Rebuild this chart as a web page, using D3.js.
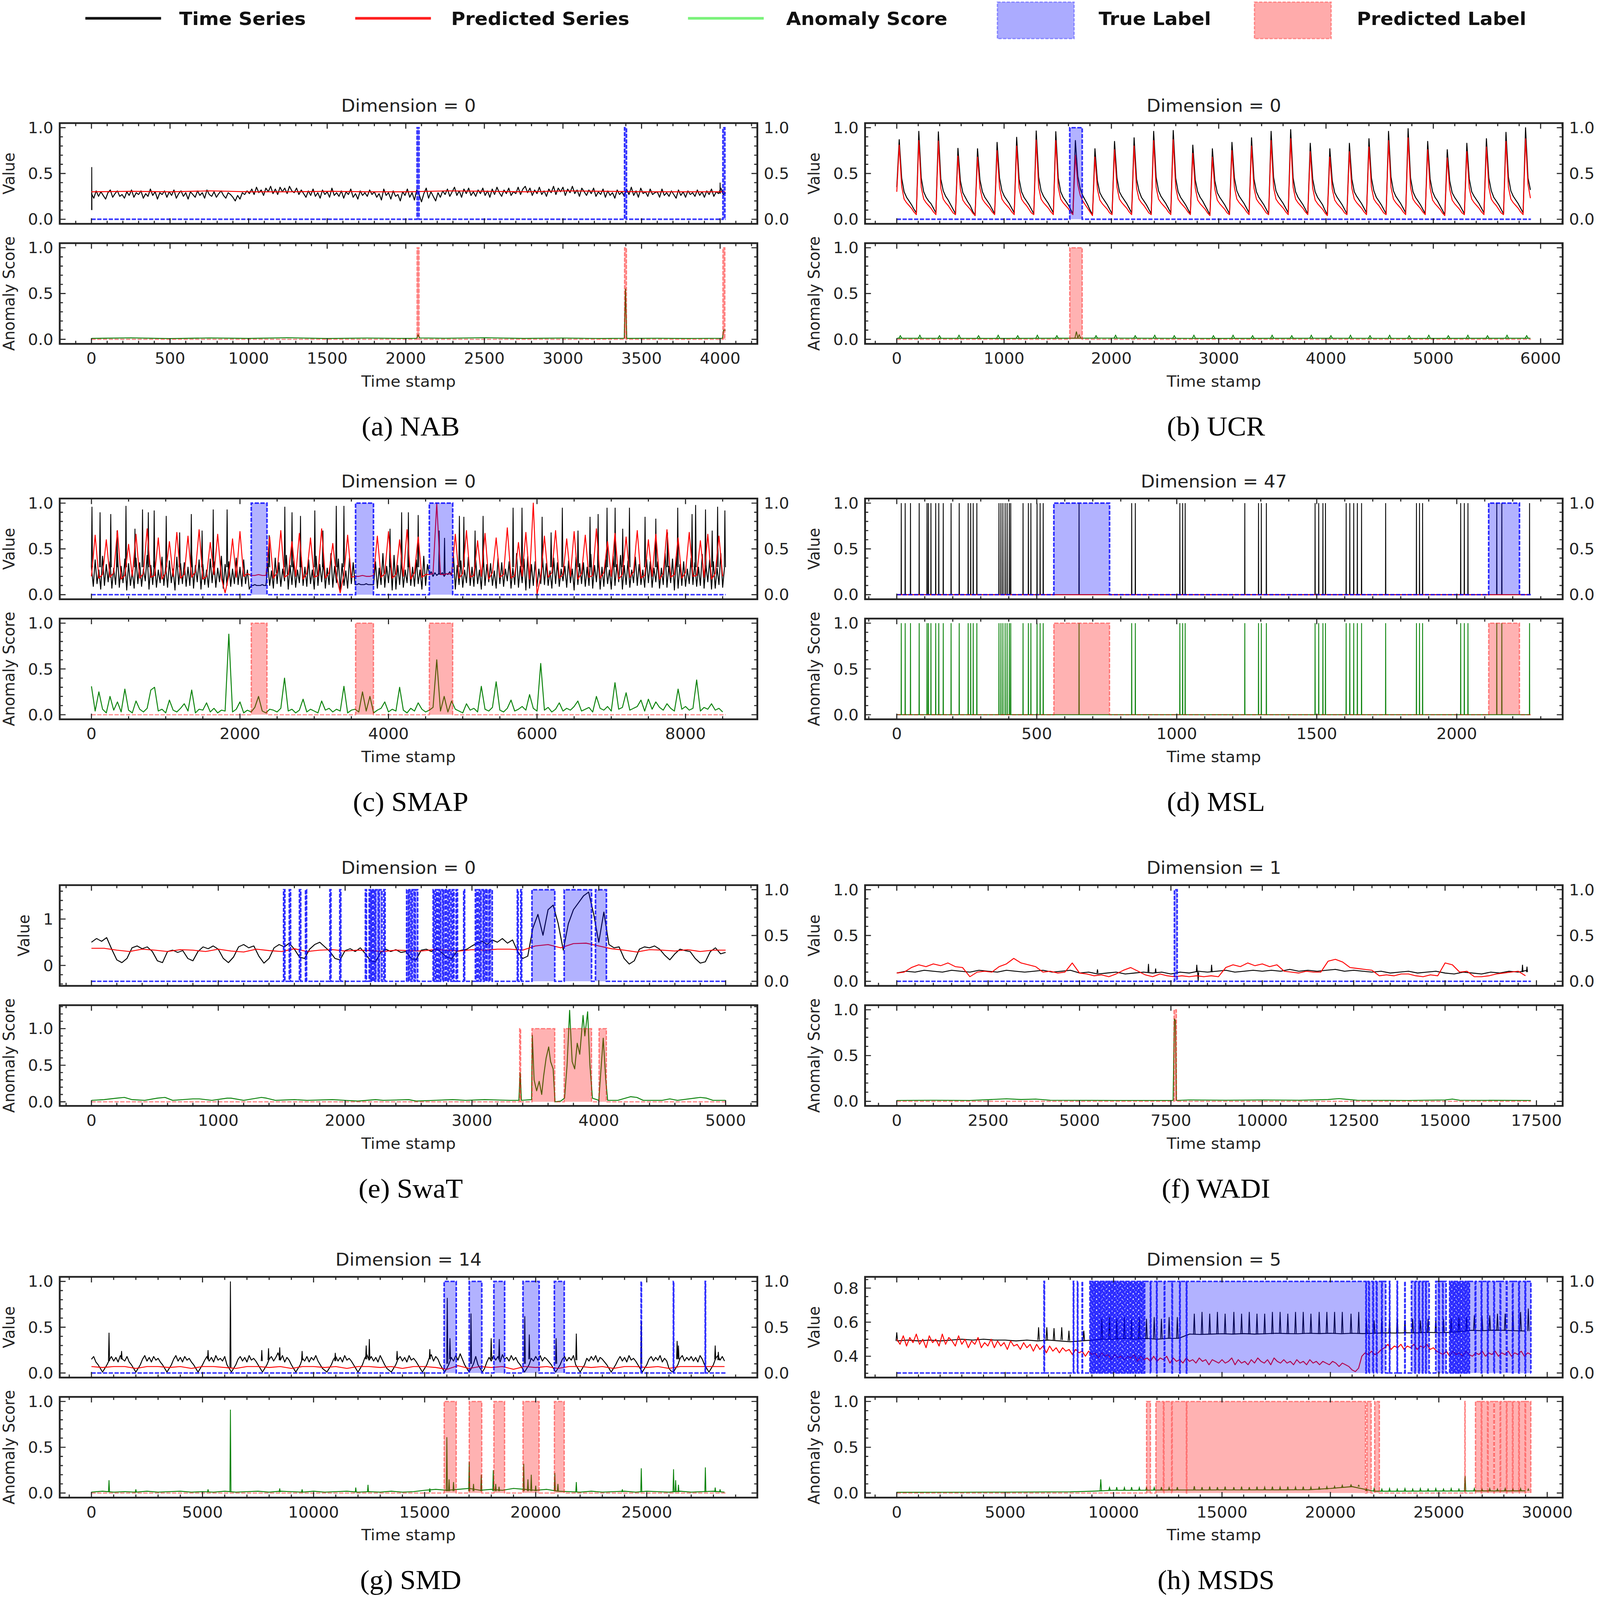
<!DOCTYPE html>
<html>
<head>
<meta charset="utf-8">
<script src="https://cdn.jsdelivr.net/npm/d3@7"></script>
<style>
  html, body { margin: 0; padding: 0; background: #fff; overflow: hidden; }
  svg { display: block; width: 100vw; height: 100vh; }
</style>
</head>
<body>
<svg id="chart"></svg>
<script>
// ---------- (a) NAB ----------
const nabLen = 4035;
const nabXTicks = [0, 500, 1000, 1500, 2000, 2500, 3000, 3500, 4000];
const nabTsStep = 15;
const nabTs = [
  0.28,0.23,0.31,0.25,0.30,0.26,0.22,0.29,0.32,0.24,0.28,0.31,0.25,0.27,0.23,
  0.30,0.26,0.32,0.24,0.29,0.27,0.31,0.23,0.28,0.25,0.33,0.26,0.30,0.22,0.29,
  0.27,0.31,0.24,0.30,0.26,0.32,0.23,0.28,0.31,0.25,0.29,0.22,0.30,0.27,0.24,
  0.31,0.26,0.29,0.23,0.32,0.27,0.25,0.30,0.24,0.28,0.31,0.26,0.23,0.29,0.27,
  0.24,0.20,0.26,0.22,0.29,0.27,0.31,0.28,0.33,0.27,0.35,0.29,0.32,0.26,0.34,
  0.30,0.36,0.28,0.33,0.27,0.35,0.30,0.34,0.28,0.36,0.31,0.29,0.34,0.27,0.32,
  0.28,0.24,0.31,0.26,0.33,0.25,0.29,0.23,0.32,0.27,0.30,0.24,0.34,0.26,0.29,
  0.25,0.31,0.23,0.30,0.27,0.33,0.24,0.28,0.22,0.31,0.26,0.29,0.25,0.32,0.27,
  0.30,0.24,0.28,0.21,0.33,0.26,0.29,0.22,0.31,0.25,0.27,0.20,0.30,0.26,0.33,
  0.24,0.29,0.21,0.32,0.27,0.19,0.28,0.34,0.23,0.30,0.25,0.20,0.29,0.24,0.31,
  0.27,0.33,0.25,0.30,0.35,0.26,0.31,0.24,0.33,0.28,0.34,0.26,0.30,0.25,0.32,
  0.28,0.34,0.26,0.31,0.24,0.33,0.27,0.35,0.29,0.25,0.32,0.28,0.34,0.26,0.30,
  0.28,0.35,0.27,0.33,0.36,0.29,0.34,0.26,0.32,0.28,0.35,0.27,0.31,0.25,0.33,
  0.29,0.36,0.27,0.34,0.30,0.35,0.26,0.33,0.29,0.36,0.28,0.32,0.25,0.34,0.30,
  0.26,0.32,0.28,0.34,0.25,0.30,0.27,0.33,0.24,0.31,0.26,0.29,0.23,0.32,0.27,
  0.30,0.25,0.33,0.27,0.35,0.26,0.31,0.24,0.34,0.28,0.30,0.25,0.33,0.27,0.29,
  0.30,0.24,0.33,0.26,0.29,0.25,0.31,0.27,0.23,0.32,0.26,0.30,0.24,0.31,0.27,
  0.29,0.25,0.32,0.26,0.30,0.24,0.31,0.27,0.33,0.25,0.30,0.28,0.34,0.27,0.29
];
const nabTsSpikes = [[2, 0.10, 0.57], [4000, 0.28, 0.40]];
const nabPredStep = 252;
const nabPred = [0.30,0.305,0.30,0.31,0.30,0.30,0.305,0.30,0.30,0.31,0.305,0.30,0.31,0.305,0.30,0.30,0.30];
const nabScore = [[0,0.01],[250,0.016],[500,0.008],[750,0.015],[1000,0.01],[1250,0.017],[1500,0.009],[1750,0.014],[2000,0.01],[2070,0.012],[2078,0.05],[2088,0.015],[2250,0.012],[2500,0.017],[2750,0.01],[3000,0.014],[3250,0.009],[3390,0.012],[3398,0.55],[3406,0.01],[3600,0.012],[3800,0.009],[4015,0.012],[4022,0.10],[4035,0.10]];
const nabTrue = [[2072,2084],[3392,3404],[4018,4030]];
const nabPredLabel = [[2072,2084],[3392,3404],[4018,4030]];

// ---------- (b) UCR ----------
const ucrLen = 5910;
const ucrXTicks = [0, 1000, 2000, 3000, 4000, 5000, 6000];
const ucrStep = 22.8;
const ucrTs = [
  0.35, 0.87, 0.45, 0.30, 0.24, 0.20, 0.16, 0.11, 0.07,
  0.96, 0.45, 0.30, 0.24, 0.20, 0.17, 0.12, 0.07,
  0.955, 0.44, 0.31, 0.25, 0.21, 0.16, 0.11, 0.06,
  0.775, 0.42, 0.29, 0.24, 0.19, 0.15, 0.09, 0.04,
  0.77, 0.43, 0.30, 0.24, 0.20, 0.16, 0.11, 0.06,
  0.84, 0.45, 0.31, 0.25, 0.21, 0.17, 0.12, 0.07,
  0.895, 0.44, 0.30, 0.24, 0.20, 0.16, 0.11, 0.06,
  0.965, 0.46, 0.31, 0.25, 0.21, 0.17, 0.12, 0.07,
  0.957, 0.45, 0.30, 0.24, 0.20, 0.16, 0.11, 0.06,
  0.86, 0.47, 0.33, 0.26, 0.21, 0.16, 0.10, 0.05,
  0.77, 0.42, 0.29, 0.24, 0.20, 0.16, 0.11, 0.06,
  0.85, 0.45, 0.30, 0.25, 0.21, 0.17, 0.12, 0.07,
  0.89, 0.44, 0.31, 0.24, 0.20, 0.16, 0.11, 0.06,
  0.96, 0.46, 0.31, 0.25, 0.21, 0.17, 0.12, 0.07,
  0.97, 0.45, 0.30, 0.24, 0.20, 0.16, 0.11, 0.06,
  0.81, 0.43, 0.30, 0.24, 0.20, 0.15, 0.10, 0.05,
  0.77, 0.42, 0.29, 0.24, 0.20, 0.16, 0.11, 0.06,
  0.84, 0.45, 0.31, 0.25, 0.21, 0.17, 0.12, 0.07,
  0.89, 0.44, 0.30, 0.24, 0.20, 0.16, 0.11, 0.06,
  0.96, 0.46, 0.31, 0.25, 0.21, 0.17, 0.12, 0.07,
  0.98, 0.45, 0.30, 0.24, 0.20, 0.16, 0.11, 0.06,
  0.83, 0.44, 0.30, 0.24, 0.20, 0.16, 0.10, 0.05,
  0.77, 0.42, 0.29, 0.24, 0.20, 0.16, 0.11, 0.06,
  0.83, 0.44, 0.30, 0.25, 0.21, 0.17, 0.12, 0.07,
  0.88, 0.45, 0.31, 0.24, 0.20, 0.16, 0.11, 0.06,
  0.96, 0.46, 0.31, 0.25, 0.21, 0.17, 0.12, 0.07,
  0.99, 0.45, 0.30, 0.24, 0.20, 0.16, 0.11, 0.06,
  0.85, 0.44, 0.30, 0.24, 0.20, 0.15, 0.10, 0.05,
  0.76, 0.42, 0.29, 0.24, 0.20, 0.16, 0.11, 0.06,
  0.83, 0.44, 0.30, 0.25, 0.21, 0.17, 0.12, 0.07,
  0.88, 0.45, 0.31, 0.24, 0.20, 0.16, 0.11, 0.06,
  0.95, 0.46, 0.31, 0.25, 0.21, 0.17, 0.12, 0.07,
  1.00, 0.45, 0.32
];
const ucrPred = [
  0.30, 0.81, 0.36, 0.22, 0.18, 0.15, 0.12, 0.08, 0.05,
  0.86, 0.35, 0.22, 0.18, 0.15, 0.12, 0.08, 0.05,
  0.855, 0.34, 0.22, 0.18, 0.15, 0.11, 0.07, 0.05,
  0.69, 0.33, 0.21, 0.17, 0.14, 0.11, 0.07, 0.04,
  0.68, 0.34, 0.22, 0.18, 0.15, 0.12, 0.08, 0.05,
  0.75, 0.35, 0.22, 0.18, 0.15, 0.12, 0.08, 0.05,
  0.80, 0.34, 0.22, 0.18, 0.15, 0.11, 0.07, 0.05,
  0.865, 0.35, 0.22, 0.18, 0.15, 0.12, 0.08, 0.05,
  0.86, 0.35, 0.22, 0.18, 0.15, 0.12, 0.08, 0.05,
  0.70, 0.38, 0.26, 0.20, 0.16, 0.12, 0.08, 0.04,
  0.68, 0.33, 0.21, 0.17, 0.14, 0.11, 0.07, 0.05,
  0.76, 0.35, 0.22, 0.18, 0.15, 0.12, 0.08, 0.05,
  0.80, 0.34, 0.22, 0.18, 0.15, 0.11, 0.07, 0.05,
  0.86, 0.35, 0.22, 0.18, 0.15, 0.12, 0.08, 0.05,
  0.87, 0.35, 0.22, 0.18, 0.15, 0.12, 0.08, 0.05,
  0.72, 0.34, 0.21, 0.17, 0.14, 0.11, 0.07, 0.04,
  0.68, 0.33, 0.21, 0.17, 0.14, 0.11, 0.07, 0.05,
  0.75, 0.35, 0.22, 0.18, 0.15, 0.12, 0.08, 0.05,
  0.80, 0.34, 0.22, 0.18, 0.15, 0.11, 0.07, 0.05,
  0.86, 0.35, 0.22, 0.18, 0.15, 0.12, 0.08, 0.05,
  0.88, 0.35, 0.22, 0.18, 0.15, 0.12, 0.08, 0.05,
  0.74, 0.34, 0.21, 0.17, 0.14, 0.11, 0.07, 0.04,
  0.68, 0.33, 0.21, 0.17, 0.14, 0.11, 0.07, 0.05,
  0.74, 0.34, 0.22, 0.18, 0.15, 0.12, 0.08, 0.05,
  0.79, 0.35, 0.22, 0.18, 0.15, 0.11, 0.07, 0.05,
  0.86, 0.35, 0.22, 0.18, 0.15, 0.12, 0.08, 0.05,
  0.89, 0.35, 0.22, 0.18, 0.15, 0.12, 0.08, 0.05,
  0.76, 0.34, 0.21, 0.17, 0.14, 0.11, 0.07, 0.04,
  0.67, 0.33, 0.21, 0.17, 0.14, 0.11, 0.07, 0.05,
  0.74, 0.34, 0.22, 0.18, 0.15, 0.12, 0.08, 0.05,
  0.79, 0.35, 0.22, 0.18, 0.15, 0.11, 0.07, 0.05,
  0.85, 0.35, 0.22, 0.18, 0.15, 0.12, 0.08, 0.05,
  0.88, 0.38, 0.23
];
const ucrScore = [[0,0.012],[1000,0.01],[2000,0.013],[3000,0.01],[4000,0.012],[5000,0.01],[5905,0.012]];
const ucrScoreSpikes = [[33,0.012,0.04],[215,0.012,0.045],[398,0.012,0.04],[580,0.012,0.045],[762,0.012,0.04],[945,0.012,0.045],[1127,0.012,0.04],[1310,0.012,0.045],[1492,0.012,0.04],[1674,0.012,0.085],[1700,0.012,0.05],[1857,0.012,0.04],[2039,0.012,0.045],[2222,0.012,0.04],[2404,0.012,0.045],[2586,0.012,0.04],[2769,0.012,0.045],[2951,0.012,0.04],[3134,0.012,0.045],[3316,0.012,0.04],[3498,0.012,0.045],[3681,0.012,0.04],[3863,0.012,0.045],[4046,0.012,0.04],[4228,0.012,0.045],[4410,0.012,0.04],[4593,0.012,0.045],[4775,0.012,0.04],[4958,0.012,0.045],[5140,0.012,0.04],[5322,0.012,0.045],[5505,0.012,0.04],[5687,0.012,0.045],[5870,0.012,0.04]];
const ucrTrue = [[1612,1728]];
const ucrPredLabel = [[1612,1728]];

// ---------- (c) SMAP ----------
const smapLen = 8540;
const smapXTicks = [0, 2000, 4000, 6000, 8000];
const smapTsStep = 25;
const smapTs = [
  0.30,0.09,0.38,0.12,0.27,0.06,0.42,0.10,0.33,0.14,
  0.36,0.07,0.29,0.11,0.45,0.08,0.31,0.13,0.39,0.05,
  0.34,0.10,0.26,0.07,0.40,0.12,0.35,0.09,0.28,0.15,
  0.43,0.06,0.32,0.11,0.37,0.08,0.27,0.13,0.41,0.10,
  0.31,0.08,0.37,0.13,0.28,0.05,0.41,0.11,0.34,0.12,
  0.35,0.09,0.30,0.10,0.44,0.07,0.32,0.14,0.38,0.06,
  0.33,0.11,0.27,0.08,0.39,0.13,0.36,0.08,0.29,0.14,
  0.42,0.07,0.33,0.10,0.36,0.09,0.28,0.12,0.40,0.11,
  0.30,0.09,0.38,0.12,0.27,0.06,
  0.10,0.10,0.11,0.10,0.10,0.10,0.11,0.10,0.10,
  0.34,0.10,0.26,0.07,0.40,0.12,0.35,0.09,0.28,0.15,
  0.43,0.06,0.32,0.11,0.37,0.08,0.27,0.13,0.41,0.10,
  0.30,0.09,0.38,0.12,0.27,0.06,0.42,0.10,0.33,0.14,
  0.36,0.07,0.29,0.11,0.45,0.08,0.31,0.13,0.39,0.05,
  0.34,0.10,0.26,0.07,0.40,0.12,0.35,
  0.11,0.11,0.12,0.11,0.11,0.11,0.12,0.11,0.11,0.11,0.11,
  0.36,0.07,0.29,0.11,0.45,0.08,0.31,0.13,0.39,0.05,
  0.43,0.06,0.32,0.11,0.37,0.08,0.27,0.13,0.41,0.10,
  0.30,0.09,0.38,0.12,0.27,0.06,0.42,0.10,0.33,
  0.22,0.25,0.20,0.24,0.21,0.23,0.22,0.24,0.20,0.23,0.22,0.25,0.21,
  0.43,0.06,0.32,0.11,0.37,0.08,0.27,0.13,0.41,0.10,
  0.30,0.09,0.38,0.12,0.27,0.06,0.42,0.10,0.33,0.14,
  0.34,0.10,0.26,0.07,0.40,0.12,0.35,0.09,0.28,0.15,
  0.36,0.07,0.29,0.11,0.45,0.08,0.31,0.13,0.39,0.05,
  0.42,0.07,0.33,0.10,0.36,0.09,0.28,0.12,0.40,0.11,
  0.34,0.10,0.26,0.07,0.40,0.12,0.35,0.09,0.28,0.15,
  0.31,0.08,0.37,0.13,0.28,0.05,0.41,0.11,0.34,0.12,
  0.35,0.09,0.30,0.10,0.44,0.07,0.32,0.14,0.38,0.06,
  0.30,0.09,0.38,0.12,0.27,0.06,0.42,0.10,0.33,0.14,
  0.43,0.06,0.32,0.11,0.37,0.08,0.27,0.13,0.41,0.10,
  0.33,0.11,0.27,0.08,0.39,0.13,0.36,0.08,0.29,0.14,
  0.36,0.07,0.29,0.11,0.45,0.08,0.31,0.13,0.39,0.05,
  0.42,0.07,0.33,0.10,0.36,0.09,0.28,0.12,0.40,0.11,
  0.35,0.09,0.30,0.10,0.44,0.07,0.32,0.14,0.38,0.06,
  0.36,0.07,0.29,0.11,0.45,0.08,0.30
];
const smapTsSpikes = [[7,0.3,0.96],[116,0.3,0.90],[260,0.3,0.88],[345,0.3,0.70],[465,0.3,0.97],[586,0.3,0.72],[688,0.3,0.93],[766,0.3,0.90],[845,0.3,0.92],[1007,0.3,0.86],[1188,0.3,0.68],[1345,0.3,0.88],[1490,0.3,0.70],[1640,0.3,0.93],[1827,0.3,0.93],[2393,0.3,0.65],[2604,0.3,0.96],[2701,0.3,0.90],[2815,0.3,0.86],[3008,0.3,0.92],[3117,0.3,0.70],[3297,0.3,0.97],[3400,0.3,0.97],[4021,0.3,0.72],[4177,0.3,0.90],[4268,0.3,0.90],[4400,0.3,0.87],[4683,0.22,0.70],[4755,0.22,0.62],[4955,0.3,0.86],[5015,0.3,0.85],[5166,0.3,0.70],[5274,0.3,0.86],[5678,0.3,0.95],[5798,0.3,0.95],[6069,0.3,0.85],[6190,0.3,0.68],[6341,0.3,0.95],[6552,0.3,0.70],[6714,0.3,0.85],[6823,0.3,0.88],[6943,0.3,0.95],[7052,0.3,0.95],[7154,0.3,0.72],[7245,0.3,0.95],[7455,0.3,0.85],[7600,0.3,0.83],[7757,0.3,0.68],[7895,0.3,0.95],[8088,0.3,0.88],[8136,0.3,0.98],[8269,0.3,0.93],[8359,0.3,0.70],[8432,0.3,0.96],[8530,0.3,0.92]];
const smapStep = 50;
const smapPred = [
  0.20,0.65,0.18,0.22,0.60,0.19,0.24,0.70,0.17,0.21,0.55,0.20,0.66,0.18,0.23,0.72,0.19,0.21,0.62,0.17,0.24,0.58,0.20,0.68,0.18,0.22,0.64,0.19,0.25,0.71,0.17,0.20,0.57,0.22,0.66,0.18,0.02,0.21,0.61,0.19,0.69,0.20,0.23,
  0.21,0.21,0.22,0.21,0.21,
  0.63,0.18,0.24,0.70,0.19,0.22,0.58,0.20,0.67,0.17,0.23,0.62,0.19,0.21,0.72,0.18,0.24,0.56,0.20,0.02,0.22,0.65,0.19,
  0.20,0.20,0.21,0.20,0.20,0.21,
  0.64,0.19,0.23,0.69,0.18,0.22,0.60,0.20,0.71,0.17,0.24,0.63,0.19,0.22,
  0.22,0.23,1.00,0.22,0.22,0.23,0.22,
  0.66,0.18,0.23,0.70,0.19,0.21,0.59,0.20,0.67,0.17,
  0.24,0.62,0.19,0.22,0.73,0.18,0.21,0.57,0.20,0.68,
  0.17,1.00,0.00,0.20,0.64,0.19,0.24,0.70,0.18,0.22,
  0.61,0.20,0.69,0.17,0.23,0.65,0.19,0.21,0.72,0.18,
  0.24,0.58,0.20,0.67,0.17,0.22,0.63,0.19,0.25,0.70,
  0.18,0.21,0.60,0.20,0.66,0.17,0.23,0.71,0.19,0.22,
  0.62,0.18,0.24,0.68,0.20,0.21,0.59,0.19,0.66,0.17,
  0.23,0.64,0.20
];
const smapScore = [
  0.31,0.04,0.25,0.06,0.02,0.20,0.05,0.14,0.03,0.28,
  0.05,0.02,0.15,0.06,0.03,0.07,0.27,0.30,0.04,0.06,
  0.02,0.16,0.05,0.03,0.07,0.12,0.04,0.27,0.02,0.06,
  0.05,0.13,0.03,0.07,0.02,0.05,0.04,0.88,0.03,0.06,
  0.14,0.02,0.05,0.03,0.08,0.20,0.04,0.02,0.06,0.05,
  0.03,0.07,0.40,0.04,0.06,0.02,0.05,0.17,0.03,0.06,
  0.04,0.02,0.15,0.05,0.07,0.03,0.06,0.04,0.31,0.02,
  0.05,0.06,0.03,0.25,0.04,0.20,0.02,0.05,0.07,0.14,
  0.03,0.06,0.04,0.30,0.05,0.02,0.07,0.04,0.13,0.06,
  0.03,0.05,0.08,0.60,0.04,0.20,0.03,0.15,0.06,0.04,
  0.02,0.12,0.05,0.07,0.03,0.31,0.06,0.04,0.08,0.36,
  0.05,0.03,0.07,0.16,0.04,0.06,0.09,0.05,0.22,0.07,
  0.04,0.56,0.05,0.08,0.03,0.06,0.13,0.04,0.07,0.05,
  0.09,0.15,0.04,0.06,0.08,0.03,0.20,0.07,0.05,0.09,
  0.04,0.35,0.06,0.08,0.24,0.05,0.07,0.09,0.16,0.04,
  0.17,0.06,0.14,0.08,0.05,0.12,0.07,0.04,0.28,0.06,
  0.09,0.05,0.07,0.38,0.04,0.08,0.06,0.12,0.05,0.07,
  0.03
];
const smapTrue = [[2152,2364],[3557,3798],[4550,4865]];
const smapPredLabel = [[2152,2364],[3557,3798],[4550,4865]];

// ---------- (d) MSL ----------
const mslLen = 2265;
const mslXTicks = [0, 500, 1000, 1500, 2000];
const mslFlat = [[0, 0], [2262, 0]];
// the same time stamps carry a 0 -> 1 spike in the series and in the anomaly score
const mslSpikeT = [16,30,49,80,108,113,122,139,150,166,194,223,255,264,273,286,365,372,379,387,394,402,407,451,470,479,501,512,523,651,839,852,1011,1021,1030,1243,1292,1302,1320,1494,1507,1522,1531,1605,1618,1632,1645,1660,1746,1856,1867,1878,2014,2027,2040,2143,2161,2260];
const mslTrue = [[561,760],[2114,2224]];
const mslPredLabel = [[561,760],[2114,2224]];

// ---------- (e) SwaT ----------
const swatLen = 5000;
const swatXTicks = [0, 1000, 2000, 3000, 4000, 5000];
const swatTsStep = 40;
const swatTs = [
  0.50,0.58,0.52,0.60,0.35,0.12,0.06,0.15,0.38,0.42,
  0.36,0.40,0.30,0.10,0.06,0.30,0.33,0.28,0.32,0.15,
  0.10,0.30,0.40,0.36,0.42,0.35,0.15,0.06,0.18,0.40,
  0.45,0.38,0.42,0.20,0.05,0.15,0.38,0.45,0.40,0.48,
  0.35,0.18,0.15,0.35,0.45,0.50,0.40,0.30,0.15,0.12,
  0.32,0.36,0.30,0.38,0.25,0.10,0.08,0.28,0.35,0.30,
  0.34,0.28,0.30,0.15,0.12,0.33,0.35,0.30,0.36,0.28,
  0.18,0.14,0.30,0.33,0.35,0.42,0.48,0.52,0.45,0.55,
  0.50,0.58,0.48,0.55,0.30,0.15,0.20,0.80,1.10,0.65,
  1.20,1.30,0.90,0.33,0.90,1.20,1.35,1.50,1.58,1.10,
  0.50,1.15,0.45,0.38,0.40,0.15,0.03,0.10,0.35,0.40,
  0.38,0.42,0.35,0.22,0.12,0.25,0.35,0.32,0.30,0.15,
  0.05,0.08,0.30,0.38,0.25,0.28
];
const swatPredStep = 100;
const swatPred = [
  0.37,0.37,0.33,0.30,0.35,0.33,0.30,0.34,0.33,0.30,
  0.35,0.31,0.29,0.35,0.32,0.30,0.36,0.30,0.33,0.34,
  0.31,0.33,0.32,0.30,0.33,0.32,0.31,0.34,0.33,0.31,
  0.34,0.33,0.35,0.35,0.33,0.42,0.45,0.38,0.47,0.48,
  0.42,0.36,0.33,0.29,0.34,0.33,0.31,0.34,0.30,0.33,
  0.33
];
const swatScore = [[0,0.02],[100,0.03],[200,0.05],[260,0.06],[320,0.03],[420,0.02],[520,0.05],[580,0.06],[640,0.02],[800,0.04],[850,0.04],[950,0.02],[1070,0.05],[1100,0.05],[1200,0.02],[1340,0.06],[1380,0.05],[1450,0.02],[1600,0.03],[1700,0.02],[1900,0.03],[2000,0.02],[2100,0.01],[2240,0.03],[2300,0.02],[2500,0.03],[2560,0.01],[2700,0.02],[2850,0.03],[2950,0.02],[3100,0.03],[3300,0.02],[3370,0.02],[3380,0.40],[3390,0.02],[3470,0.03],[3476,0.91],[3490,0.30],[3510,0.15],[3530,0.28],[3550,0.10],[3565,0.35],[3585,0.60],[3605,0.75],[3620,0.55],[3640,0.45],[3655,0.0],[3700,0.01],[3730,0.05],[3750,0.50],[3770,1.25],[3790,0.55],[3810,0.45],[3830,0.80],[3850,0.65],[3876,1.18],[3890,0.90],[3912,1.23],[3930,0.50],[3950,0.05],[4000,0.02],[4035,0.87],[4055,0.30],[4070,0.02],[4150,0.02],[4250,0.07],[4300,0.06],[4350,0.02],[4500,0.02],[4560,0.04],[4620,0.02],[4800,0.06],[4850,0.05],[4900,0.02],[5000,0.02]];
const swatTrue = [[1515,1525],[1560,1570],[1640,1650],[1688,1696],[1880,1888],[1958,1966],[2160,2168],[2190,2200],[2205,2215],[2222,2235],[2240,2262],[2268,2290],[2305,2315],[2485,2500],[2505,2520],[2528,2545],[2552,2572],[2694,2702],[2712,2722],[2732,2745],[2752,2770],[2775,2790],[2798,2812],[2820,2835],[2845,2858],[2875,2886],[2935,2942],[3027,3040],[3048,3062],[3070,3090],[3096,3110],[3118,3135],[3142,3160],[3358,3364],[3385,3392],[3473,3653],[3727,3943],[3974,4060]];
const swatPredLabel = [[3376,3384],[3473,3653],[3727,3943],[4002,4060]];

// ---------- (f) WADI ----------
const wadiLen = 17350;
const wadiXTicks = [0, 2500, 5000, 7500, 10000, 12500, 15000, 17500];
const wadiTsStep = 250;
const wadiTs = [
  0.09,0.11,0.10,0.12,0.11,0.10,0.12,0.11,
  0.10,0.12,0.11,0.10,0.12,0.11,0.10,0.11,
  0.12,0.10,0.11,0.12,0.09,0.10,0.08,0.09,
  0.10,0.08,0.09,0.10,0.09,0.10,0.08,0.10,
  0.09,0.11,0.10,0.11,0.12,0.10,0.11,0.12,
  0.11,0.12,0.11,0.13,0.11,0.12,0.11,0.12,
  0.13,0.11,0.12,0.11,0.10,0.11,0.09,0.10,
  0.11,0.09,0.10,0.11,0.09,0.08,0.10,0.09,
  0.08,0.10,0.09,0.11,0.10,0.12
];
const wadiTsSpikes = [[5491,0.09,0.13],[6886,0.10,0.19],[7082,0.09,0.14],[8208,0.10,0.18],[8245,0.10,0.0],[8613,0.10,0.18],[17119,0.10,0.18],[17241,0.10,0.16]];
const wadiPredStep = 200;
const wadiPred = [
  0.09,0.10,0.15,0.18,0.16,0.19,0.17,0.20,0.16,0.15,
  0.05,0.10,0.11,0.10,0.16,0.19,0.25,0.20,0.18,0.16,
  0.10,0.11,0.09,0.10,0.20,0.09,0.08,0.06,0.07,0.05,
  0.08,0.12,0.15,0.11,0.07,0.05,0.08,0.06,0.05,0.06,
  0.05,0.06,0.05,0.06,0.05,0.15,0.18,0.16,0.20,0.17,
  0.19,0.16,0.18,0.11,0.10,0.09,0.11,0.10,0.10,0.22,
  0.24,0.21,0.15,0.14,0.13,0.12,0.06,0.07,0.06,0.08,
  0.08,0.06,0.05,0.07,0.06,0.20,0.18,0.10,0.11,0.05,
  0.05,0.06,0.08,0.09,0.10,0.11,0.06
];
const wadiScore = [[0,0.01],[1000,0.012],[2000,0.01],[2600,0.02],[3000,0.028],[3400,0.02],[3800,0.025],[4200,0.012],[6000,0.01],[7560,0.01],[7595,0.90],[7625,0.88],[7650,0.01],[8000,0.015],[9000,0.012],[10000,0.015],[11000,0.012],[11800,0.02],[12100,0.03],[12300,0.022],[12600,0.012],[14000,0.01],[15000,0.015],[15200,0.025],[15400,0.012],[17350,0.01]];
const wadiTrue = [[7596,7670]];
const wadiPredLabel = [[7585,7650]];

// ---------- (g) SMD ----------
const smdLen = 28550;
const smdXTicks = [0, 5000, 10000, 15000, 20000, 25000];
const smdTsStep = 100;
const smdTs = [
  0.15,0.18,0.12,0.09,0.05,0.01,0.05,0.09,0.14,0.18,
  0.13,0.17,0.12,0.19,0.15,0.13,0.18,0.12,0.09,0.05,
  0.01,0.05,0.09,0.15,0.19,0.13,0.17,0.12,0.18,0.14,
  0.16,0.12,0.09,0.05,0.01,0.05,0.09,0.15,0.19,0.13,
  0.17,0.12,0.18,0.14,0.16,0.12,0.09,0.05,0.01,0.05,
  0.09,0.14,0.18,0.13,0.17,0.12,0.19,0.14,0.16,0.13,
  0.18,0.09,0.05,0.01,0.05,0.09,0.15,0.18,0.13,0.17,
  0.12,0.19,0.14,0.16,0.13,0.09,0.05,0.01,0.05,0.09,
  0.15,0.18,0.13,0.17,0.22,0.14,0.19,0.12,0.17,0.14,
  0.09,0.05,0.01,0.05,0.09,0.16,0.13,0.18,0.12,0.17,
  0.14,0.19,0.13,0.09,0.05,0.03,0.01,0.05,0.09,0.15,
  0.18,0.13,0.17,0.12,0.19,0.14,0.16,0.13,0.09,0.05,
  0.01,0.05,0.09,0.16,0.20,0.14,0.18,0.13,0.17,0.12,
  0.19,0.14,0.09,0.05,0.03,0.01,0.05,0.09,0.15,0.18,
  0.13,0.17,0.12,0.19,0.14,0.16,0.13,0.09,0.05,0.01,
  0.05,0.09,0.16,0.20,0.13,0.18,0.15,0.09,0.05,0.01,
  0.05,0.10,0.17,0.13,0.19,0.14,0.21,0.15,0.09,0.05,
  0.01,0.05,0.10,0.18,0.09,0.05,0.01,0.05,0.12,0.17,
  0.13,0.19,0.14,0.18,0.12,0.20,0.15,0.17,0.13,0.19,
  0.14,0.17,0.12,0.09,0.05,0.01,0.05,0.09,0.16,0.13,
  0.18,0.14,0.19,0.13,0.17,0.15,0.12,0.09,0.05,0.01,
  0.05,0.09,0.15,0.18,0.13,0.17,0.14,0.19,0.09,0.05,
  0.01,0.05,0.09,0.16,0.13,0.18,0.14,0.19,0.12,0.17,
  0.15,0.12,0.09,0.05,0.01,0.05,0.09,0.14,0.18,0.13,
  0.17,0.12,0.19,0.14,0.16,0.13,0.09,0.05,0.01,0.05,
  0.09,0.15,0.18,0.13,0.17,0.14,0.19,0.12,0.16,0.13,
  0.05,0.02,0.01,0.05,0.09,0.16,0.19,0.13,0.17,0.14,
  0.18,0.13,0.17,0.12,0.19,0.15,0.09,0.05,0.01,0.05,
  0.09,0.16,0.19,0.14,0.18,0.13
];
const smdTsSpikes = [[791,0.13,0.44],[1356,0.15,0.24],[5249,0.15,0.25],[6257,0.05,1.0],[7669,0.13,0.25],[7972,0.14,0.27],[8476,0.14,0.28],[9484,0.14,0.24],[10977,0.13,0.22],[12369,0.15,0.30],[12510,0.15,0.37],[13760,0.14,0.24],[15233,0.15,0.26],[16019,0.10,0.82],[16140,0.15,0.38],[17088,0.10,0.65],[17996,0.15,0.38],[18359,0.15,0.37],[19509,0.10,0.62],[19711,0.15,0.42],[20921,0.10,0.38],[21828,0.14,0.43],[24753,0.10,0.56],[26367,0.15,0.35],[26427,0.15,0.30],[28081,0.15,0.30],[28222,0.14,0.23]];
const smdPredStep = 500;
const smdPred = [
  0.07,0.06,0.07,0.07,0.05,0.07,0.07,0.06,0.07,0.05,
  0.07,0.07,0.06,0.05,0.07,0.07,0.06,0.07,0.05,0.07,
  0.07,0.06,0.07,0.05,0.07,0.07,0.06,0.07,0.05,0.07,
  0.07,0.06,0.04,0.08,0.05,0.07,0.06,0.07,0.04,0.07,
  0.06,0.07,0.05,0.07,0.07,0.06,0.07,0.05,0.07,0.07,
  0.06,0.07,0.05,0.07,0.07,0.07,0.07,0.07
];
const smdScoreStep = 500;
const smdScore = [
  0.01,0.02,0.01,0.015,0.01,0.02,0.01,0.015,0.02,0.01,
  0.015,0.01,0.02,0.01,0.015,0.02,0.01,0.02,0.015,0.01,
  0.02,0.01,0.015,0.02,0.01,0.015,0.01,0.02,0.01,0.015,
  0.03,0.04,0.03,0.04,0.05,0.03,0.04,0.03,0.05,0.04,
  0.03,0.04,0.02,0.015,0.01,0.02,0.01,0.015,0.02,0.01,
  0.02,0.015,0.01,0.02,0.01,0.015,0.02,0.01
];
const smdScoreSpikes = [[791,0.01,0.14],[2000,0.01,0.04],[5249,0.01,0.04],[6257,0.01,0.91],[8476,0.01,0.05],[9484,0.01,0.04],[11900,0.01,0.06],[12450,0.01,0.09],[15233,0.01,0.05],[16000,0.02,0.61],[16100,0.02,0.15],[16300,0.02,0.12],[17007,0.02,0.34],[17200,0.02,0.10],[17550,0.02,0.20],[18090,0.02,0.25],[18200,0.02,0.10],[18350,0.02,0.07],[19460,0.02,0.32],[19650,0.02,0.15],[19800,0.02,0.20],[20000,0.02,0.08],[20860,0.02,0.22],[21000,0.02,0.10],[21828,0.01,0.12],[23900,0.01,0.04],[24753,0.01,0.27],[26205,0.01,0.26],[26300,0.01,0.14],[26427,0.01,0.09],[27638,0.01,0.28],[28081,0.01,0.06],[28300,0.01,0.04]];
const smdTrue = [[15878,16423],[17007,17573],[18117,18601],[19428,20154],[20840,21284],[24745,24760],[26198,26212],[27631,27645]];
const smdPredLabel = [[15878,16423],[17007,17573],[18117,18601],[19428,20154],[20840,21284]];

// ---------- (h) MSDS ----------
const msdsLen = 29250;
const msdsXTicks = [0, 5000, 10000, 15000, 20000, 25000, 30000];
const msdsTsStep = 500;
const msdsTs = [
  0.49,0.495,0.49,0.495,0.49,0.495,0.50,0.495,0.50,0.495,
  0.495,0.49,0.495,0.49,0.495,0.49,0.485,0.49,0.495,0.50,
  0.50,0.505,0.50,0.505,0.50,0.505,0.505,0.53,0.528,0.53,
  0.532,0.53,0.533,0.53,0.532,0.535,0.533,0.532,0.535,0.533,
  0.535,0.532,0.535,0.533,0.535,0.537,0.536,0.538,0.537,0.54,
  0.538,0.54,0.545,0.552,0.55,0.553,0.552,0.55,0.548
];
const msdsTsSpikes = [[0,0.49,0.54],[6541,0.495,0.57],[6920,0.495,0.57],[7252,0.495,0.565],[7608,0.495,0.57],[7940,0.49,0.55],[8627,0.49,0.55],[9456,0.50,0.62],[9812,0.50,0.63],[10144,0.50,0.62],[10499,0.50,0.63],[10831,0.50,0.62],[11187,0.50,0.63],[11518,0.50,0.62],[11874,0.505,0.63],[12206,0.505,0.62],[12561,0.505,0.63],[12940,0.505,0.63],[13722,0.53,0.65],[14078,0.53,0.66],[14433,0.53,0.65],[14789,0.53,0.66],[15144,0.53,0.65],[15547,0.53,0.66],[15903,0.53,0.65],[16258,0.53,0.66],[16614,0.53,0.65],[16969,0.53,0.65],[17325,0.53,0.66],[17680,0.535,0.66],[18036,0.535,0.65],[18391,0.535,0.66],[18747,0.535,0.66],[19102,0.535,0.65],[19482,0.535,0.66],[19837,0.535,0.66],[20193,0.535,0.66],[20548,0.535,0.66],[20951,0.535,0.65],[21306,0.535,0.66],[21662,0.535,0.62],[22017,0.535,0.61],[22373,0.535,0.62],[22728,0.537,0.61],[23084,0.537,0.62],[23439,0.537,0.61],[23795,0.537,0.62],[24150,0.538,0.61],[24506,0.538,0.62],[24861,0.538,0.61],[25217,0.54,0.62],[25572,0.54,0.62],[25928,0.545,0.63],[26283,0.55,0.63],[26639,0.55,0.64],[26994,0.552,0.64],[27350,0.552,0.64],[27705,0.552,0.65],[28061,0.55,0.65],[28416,0.55,0.66],[28772,0.55,0.66],[29127,0.548,0.68]];
const msdsPredStep = 150;
const msdsPred = [
  0.50,0.47,0.52,0.46,0.51,0.48,0.53,0.47,0.50,0.45,
  0.52,0.48,0.50,0.46,0.53,0.47,0.51,0.49,0.46,0.52,
  0.47,0.50,0.45,0.49,0.47,0.51,0.45,0.48,0.46,0.50,
  0.45,0.49,0.46,0.48,0.44,0.49,0.46,0.47,0.44,0.48,
  0.45,0.47,0.43,0.47,0.44,0.46,0.42,0.46,0.43,0.45,
  0.42,0.45,0.43,0.44,0.41,0.44,0.42,0.43,0.40,0.43,
  0.41,0.42,0.39,0.42,0.40,0.41,0.38,0.41,0.39,0.40,
  0.38,0.40,0.39,0.41,0.37,0.40,0.38,0.39,0.37,0.40,
  0.37,0.39,0.38,0.40,0.36,0.39,0.37,0.38,0.36,0.39,
  0.37,0.38,0.36,0.39,0.37,0.38,0.35,0.38,0.37,0.36,
  0.38,0.36,0.37,0.39,0.35,0.38,0.36,0.37,0.35,0.38,
  0.36,0.39,0.37,0.36,0.38,0.35,0.39,0.37,0.36,0.38,
  0.36,0.37,0.35,0.38,0.36,0.37,0.35,0.38,0.36,0.37,
  0.35,0.37,0.36,0.35,0.37,0.36,0.34,0.36,0.35,0.34,
  0.32,0.31,0.33,0.40,0.42,0.41,0.43,0.41,0.42,0.44,
  0.45,0.47,0.44,0.46,0.45,0.47,0.44,0.46,0.45,0.47,
  0.44,0.46,0.45,0.47,0.44,0.45,0.43,0.42,0.41,0.43,
  0.40,0.43,0.41,0.42,0.40,0.43,0.41,0.40,0.42,0.41,
  0.43,0.40,0.42,0.41,0.43,0.40,0.42,0.41,0.43,0.40,
  0.42,0.41,0.43,0.40,0.42,0.41
];
const msdsScoreStep = 1000;
const msdsScore = [
  0.008,0.008,0.009,0.009,0.01,0.01,0.011,0.012,0.013,0.02,
  0.03,0.03,0.032,0.033,0.033,0.034,0.034,0.035,0.035,0.036,
  0.05,0.07,0.02,0.02,0.021,0.022,0.022,0.023,0.023,0.024
];
const msdsScoreSpikes = [[9409,0.02,0.15],[9812,0.03,0.06],[10144,0.03,0.065],[10499,0.03,0.06],[10831,0.03,0.065],[11187,0.03,0.06],[11518,0.03,0.065],[11874,0.03,0.06],[12206,0.03,0.065],[12561,0.032,0.06],[12940,0.032,0.065],[13722,0.033,0.075],[14078,0.033,0.065],[14433,0.033,0.07],[14789,0.033,0.065],[15144,0.034,0.07],[15547,0.034,0.065],[15903,0.034,0.07],[16258,0.034,0.065],[16614,0.035,0.07],[16969,0.035,0.065],[17325,0.035,0.07],[17680,0.035,0.065],[18036,0.035,0.07],[18391,0.035,0.065],[18747,0.036,0.07],[19102,0.036,0.065],[19482,0.036,0.07],[19837,0.04,0.07],[20193,0.05,0.075],[20548,0.06,0.085],[20951,0.07,0.09],[21306,0.07,0.085],[21662,0.02,0.045],[22017,0.02,0.05],[22373,0.02,0.045],[22728,0.02,0.05],[23084,0.021,0.045],[23439,0.021,0.05],[23795,0.021,0.045],[24150,0.022,0.05],[24506,0.022,0.045],[24861,0.022,0.05],[25217,0.022,0.045],[25572,0.022,0.05],[25928,0.022,0.045],[26212,0.022,0.185],[26639,0.023,0.05],[26994,0.023,0.045],[27350,0.023,0.05],[27705,0.023,0.045],[28061,0.023,0.05],[28416,0.024,0.045],[28772,0.024,0.05],[29127,0.024,0.045]];
const msdsTrue = [[6790,6810],[8145,8160],[8335,8350],[8550,8565],[8911,8960],[9000,9040],[9080,9120],[9150,9200],[9240,9280],[9320,9370],[9400,9440],[9480,9530],[9570,9610],[9650,9700],[9740,9780],[9820,9870],[9900,9950],[9990,10030],[10070,10120],[10160,10200],[10240,10290],[10330,10370],[10410,10460],[10500,10540],[10580,10630],[10670,10710],[10750,10800],[10840,10880],[10920,10970],[11010,11050],[11090,11140],[11180,11220],[11260,11310],[11350,11400],[11430,11700],[11716,11985],[12000,12340],[12356,12695],[12711,13050],[13066,13360],[13375,21640],[21655,21770],[21790,21960],[21980,22125],[22145,22365],[22385,22550],[22725,22740],[23078,23092],[23432,23446],[23740,23900],[23915,24080],[24095,24250],[24265,24400],[24415,24553],[24860,25000],[25015,25180],[25195,25335],[25500,25540],[25580,25620],[25660,25700],[25740,25780],[25820,25860],[25900,25940],[25980,26020],[26060,26100],[26140,26180],[26220,26260],[26300,26340],[26370,26400],[26410,26680],[26700,26960],[26980,27250],[27270,27540],[27560,27830],[27850,28120],[28140,28400],[28420,28690],[28710,28980],[29000,29246]];
const msdsPredLabel = [[11520,11700],[11950,12300],[12320,12680],[12700,13360],[13375,21620],[21680,21880],[22040,22260],[26200,26215],[26690,26960],[26980,27250],[27270,27540],[27560,27830],[27850,28120],[28140,28400],[28420,28690],[28710,28980],[29000,29246]];

// ---------- legend ----------
const legendLines = [
  { label: 'Time Series', color: '#111', x: 80, tx: 168 },
  { label: 'Predicted Series', color: '#ff2020', x: 333, tx: 423 },
  { label: 'Anomaly Score', color: '#7af27a', x: 645, tx: 737 }
];
const legendBoxes = [
  { label: 'True Label', color: '#0000ff', x: 935, tx: 1030 },
  { label: 'Predicted Label', color: '#ff0000', x: 1176, tx: 1272 }
];

// ---------- helpers ----------
const fromStep = (step, vals) => vals.map((v, i) => [i * step, v]);

const VW = 1500, VH = VW * 5391 / 5142;
const colX = [56, 811], frameW = 654;
const rowTop = [121, 490, 870, 1255];
const plotH = 99, gapH = 19;
const sans = 'DejaVu Sans, Verdana, sans-serif';

const panels = [
  { caption: '(a) NAB', title: 'Dimension = 0', col: 0, row: 0, len: nabLen, xTicks: nabXTicks, xMinor: 100,
    ts: fromStep(nabTsStep, nabTs), tsSpikes: nabTsSpikes, pred: fromStep(nabPredStep, nabPred),
    score: nabScore, scoreSpikes: [], trueSeg: nabTrue, predSeg: nabPredLabel, spikeW: 1 },
  { caption: '(b) UCR', title: 'Dimension = 0', col: 1, row: 0, len: ucrLen, xTicks: ucrXTicks, xMinor: 200,
    ts: fromStep(ucrStep, ucrTs), tsSpikes: [], pred: fromStep(ucrStep, ucrPred),
    score: ucrScore, scoreSpikes: ucrScoreSpikes, trueSeg: ucrTrue, predSeg: ucrPredLabel, spikeW: 14 },
  { caption: '(c) SMAP', title: 'Dimension = 0', col: 0, row: 1, len: smapLen, xTicks: smapXTicks, xMinor: 500,
    ts: fromStep(smapTsStep, smapTs), tsSpikes: smapTsSpikes, pred: fromStep(smapStep, smapPred),
    score: fromStep(smapStep, smapScore), scoreSpikes: [], trueSeg: smapTrue, predSeg: smapPredLabel, spikeW: 8 },
  { caption: '(d) MSL', title: 'Dimension = 47', col: 1, row: 1, len: mslLen, xTicks: mslXTicks, xMinor: 100,
    ts: mslFlat, tsSpikes: mslSpikeT.map((t) => [t, 0, 1]), pred: mslFlat,
    score: mslFlat, scoreSpikes: mslSpikeT.map((t) => [t, 0, 1]),
    trueSeg: mslTrue, predSeg: mslPredLabel, spikeW: 0.6 },
  { caption: '(e) SwaT', title: 'Dimension = 0', col: 0, row: 2, len: swatLen, xTicks: swatXTicks, xMinor: 200,
    valueDomain: [-0.44, 1.73], valueTicks: [0, 1], valueMinor: 0.2, valueFmt: 'd', valueLabelX: 34,
    scoreDomain: [-0.056, 1.32],
    ts: fromStep(swatTsStep, swatTs), tsSpikes: [], pred: fromStep(swatPredStep, swatPred),
    score: swatScore, scoreSpikes: [], trueSeg: swatTrue, predSeg: swatPredLabel, spikeW: 5 },
  { caption: '(f) WADI', title: 'Dimension = 1', col: 1, row: 2, len: wadiLen, xTicks: wadiXTicks, xMinor: 500,
    ts: fromStep(wadiTsStep, wadiTs), tsSpikes: wadiTsSpikes, pred: fromStep(wadiPredStep, wadiPred),
    score: wadiScore, scoreSpikes: [], trueSeg: wadiTrue, predSeg: wadiPredLabel, spikeW: 15 },
  { caption: '(g) SMD', title: 'Dimension = 14', col: 0, row: 3, len: smdLen, xTicks: smdXTicks, xMinor: 1000,
    ts: fromStep(smdTsStep, smdTs), tsSpikes: smdTsSpikes, pred: fromStep(smdPredStep, smdPred),
    score: fromStep(smdScoreStep, smdScore), scoreSpikes: smdScoreSpikes, trueSeg: smdTrue, predSeg: smdPredLabel, spikeW: 25 },
  { caption: '(h) MSDS', title: 'Dimension = 5', col: 1, row: 3, len: msdsLen, xTicks: msdsXTicks, xMinor: 1000,
    valueDomain: [0.275, 0.866], valueTicks: [0.4, 0.6, 0.8], valueMinor: 0.05,
    ts: fromStep(msdsTsStep, msdsTs), tsSpikes: msdsTsSpikes, pred: fromStep(msdsPredStep, msdsPred),
    score: fromStep(msdsScoreStep, msdsScore), scoreSpikes: msdsScoreSpikes, trueSeg: msdsTrue, predSeg: msdsPredLabel, spikeW: 35 }
];

// the drawing is stretched over the whole viewport, whatever size the browser window really has
const svg = d3.select('#chart')
  .attr('viewBox', [0, 0, VW, VH])
  .attr('preserveAspectRatio', 'none');
svg.append('rect').attr('width', VW).attr('height', VH).attr('fill', '#fff');
const defs = svg.append('defs');
let clipId = 0;

function addClip(x, y, w, h) {
  const id = 'clip-' + clipId++;
  defs.append('clipPath').attr('id', id).append('rect').attr('x', x).attr('y', y).attr('width', w).attr('height', h);
  return id;
}

function drawLine(g, pts, x, y, color, width) {
  g.append('path')
    .attr('d', d3.line().x((d) => x(d[0])).y((d) => y(d[1]))(pts))
    .attr('fill', 'none')
    .attr('stroke', color)
    .attr('stroke-width', width)
    .attr('stroke-linejoin', 'round');
}

function drawSpikes(g, spikes, x, y, w, color, width) {
  if (!spikes.length) return;
  let d = '';
  spikes.forEach(([t, b, v]) => {
    d += `M${x(t - w)},${y(b)}L${x(t)},${y(v)}L${x(t + w)},${y(b)}`;
  });
  g.append('path').attr('d', d).attr('fill', 'none').attr('stroke', color).attr('stroke-width', width);
}

function drawLabels(g, segs, len, x, y, color, lineOpacity, lineWidth) {
  g.append('g')
    .selectAll('rect')
    .data(segs)
    .join('rect')
    .attr('x', (d) => x(d[0]))
    .attr('width', (d) => Math.max(0.3, x(d[1]) - x(d[0])))
    .attr('y', y(1))
    .attr('height', y(0) - y(1))
    .attr('fill', color)
    .attr('fill-opacity', 0.3);
  const pts = [[0, 0]];
  segs.forEach(([s, e]) => pts.push([s, 0], [s, 1], [e, 1], [e, 0]));
  pts.push([len, 0]);
  g.append('path')
    .attr('d', d3.line().x((d) => x(d[0])).y((d) => y(d[1]))(pts))
    .attr('fill', 'none')
    .attr('stroke', color)
    .attr('stroke-opacity', lineOpacity)
    .attr('stroke-width', lineWidth)
    .attr('stroke-dasharray', '4,1.4');
}

function minorRange(domain, step) {
  return d3.range(Math.ceil(domain[0] / step - 1e-6) * step, domain[1] + 1e-6, step);
}

// inward ticks on the four sides of one plot box
function drawTicks(g, box, x, xTicks, xMinor, yLeft, leftTicks, leftMinor, yRight, rightTicks, rightMinor) {
  let d = '';
  const maj = 5.5, min = 3;
  minorRange(x.domain(), xMinor).forEach((v) => {
    const px = x(v);
    if (px < box.x0 || px > box.x1) return;
    d += `M${px},${box.y1}v${-min}M${px},${box.y0}v${min}`;
  });
  xTicks.forEach((v) => {
    const px = x(v);
    d += `M${px},${box.y1}v${-maj}M${px},${box.y0}v${maj}`;
  });
  minorRange(yLeft.domain(), leftMinor).forEach((v) => { d += `M${box.x0},${yLeft(v)}h${min}`; });
  leftTicks.forEach((v) => { d += `M${box.x0},${yLeft(v)}h${maj}`; });
  minorRange(yRight.domain(), rightMinor).forEach((v) => { d += `M${box.x1},${yRight(v)}h${-min}`; });
  rightTicks.forEach((v) => { d += `M${box.x1},${yRight(v)}h${-maj}`; });
  g.append('path').attr('d', d).attr('stroke', '#222').attr('stroke-width', 1).attr('fill', 'none');
  g.append('rect')
    .attr('x', box.x0).attr('y', box.y0)
    .attr('width', box.x1 - box.x0).attr('height', box.y1 - box.y0)
    .attr('fill', 'none').attr('stroke', '#222').attr('stroke-width', 1.7);
}

function yTickLabels(g, y, ticks, fmt, xPos, anchor) {
  g.append('g')
    .selectAll('text')
    .data(ticks)
    .join('text')
    .attr('x', xPos)
    .attr('y', (d) => y(d))
    .attr('dy', '0.36em')
    .attr('text-anchor', anchor)
    .attr('font-family', sans)
    .attr('font-size', 15)
    .attr('fill', '#222')
    .text((d) => d3.format(fmt)(d));
}

function yTitle(g, text, cx, cy) {
  g.append('text')
    .attr('transform', `translate(${cx},${cy}) rotate(-90)`)
    .attr('dy', '0.36em')
    .attr('text-anchor', 'middle')
    .attr('font-family', sans)
    .attr('font-size', 15)
    .attr('fill', '#222')
    .text(text);
}

function drawPanel(p) {
  const x0 = colX[p.col], x1 = x0 + frameW;
  const t0 = rowTop[p.row], t1 = t0 + plotH;
  const b0 = t1 + gapH, b1 = b0 + plotH;
  const cx = (x0 + x1) / 2;

  const x = d3.scaleLinear().domain([-0.05 * p.len, 1.05 * p.len]).range([x0, x1]);
  const yV = d3.scaleLinear().domain(p.valueDomain || [-0.05, 1.05]).range([t1, t0]);
  const yL = d3.scaleLinear().domain([-0.05, 1.05]).range([t1, t0]);
  const yS = d3.scaleLinear().domain(p.scoreDomain || [-0.05, 1.05]).range([b1, b0]);

  const g = svg.append('g');

  const top = g.append('g').attr('clip-path', `url(#${addClip(x0, t0, frameW, plotH)})`);
  drawLine(top, p.ts, x, yV, '#000', 0.9);
  drawSpikes(top, p.tsSpikes, x, yV, p.spikeW, '#000', 0.8);
  drawLine(top, p.pred, x, yV, '#ff0000', 0.9);
  drawLabels(top, p.trueSeg, p.len, x, yL, '#0000ff', 0.8, 1.5);

  const bot = g.append('g').attr('clip-path', `url(#${addClip(x0, b0, frameW, plotH)})`);
  drawLine(bot, p.score, x, yS, '#0a820a', 0.9);
  drawSpikes(bot, p.scoreSpikes, x, yS, p.spikeW, '#0a820a', 0.8);
  drawLabels(bot, p.predSeg, p.len, x, yS, '#ff0000', 0.45, 1.2);

  const vTicks = p.valueTicks || [0, 0.5, 1];
  const vMinor = p.valueMinor || 0.1;
  drawTicks(g, { x0, x1, y0: t0, y1: t1 }, x, p.xTicks, p.xMinor, yV, vTicks, vMinor, yL, [0, 0.5, 1], 0.1);
  drawTicks(g, { x0, x1, y0: b0, y1: b1 }, x, p.xTicks, p.xMinor, yS, [0, 0.5, 1], 0.1, yS, [0, 0.5, 1], 0.1);

  yTickLabels(g, yV, vTicks, p.valueFmt || '.1f', x0 - 6, 'end');
  yTickLabels(g, yL, [0, 0.5, 1], '.1f', x1 + 6, 'start');
  yTickLabels(g, yS, [0, 0.5, 1], '.1f', x0 - 6, 'end');

  yTitle(g, 'Value', x0 - (p.valueLabelX || 48), (t0 + t1) / 2);
  yTitle(g, 'Anomaly Score', x0 - 48, (b0 + b1) / 2);

  g.append('g')
    .selectAll('text')
    .data(p.xTicks)
    .join('text')
    .attr('x', (d) => x(d))
    .attr('y', b1 + 19.5)
    .attr('text-anchor', 'middle')
    .attr('font-family', sans)
    .attr('font-size', 15)
    .attr('fill', '#222')
    .text((d) => d3.format('d')(d));

  g.append('text')
    .attr('x', cx).attr('y', b1 + 42)
    .attr('text-anchor', 'middle')
    .attr('font-family', sans).attr('font-size', 15).attr('fill', '#222')
    .text('Time stamp');

  g.append('text')
    .attr('x', cx).attr('y', t0 - 11)
    .attr('text-anchor', 'middle')
    .attr('font-family', sans).attr('font-size', 17).attr('fill', '#222')
    .text(p.title);

  g.append('text')
    .attr('x', cx + 2).attr('y', b1 + 90)
    .attr('text-anchor', 'middle')
    .attr('font-family', 'Liberation Serif, Times New Roman, serif')
    .attr('font-size', 26.5).attr('fill', '#000')
    .text(p.caption);
}

panels.forEach(drawPanel);

// legend
const leg = svg.append('g');
legendLines.forEach((d) => {
  leg.append('line')
    .attr('x1', d.x).attr('x2', d.x + 71).attr('y1', 18).attr('y2', 18)
    .attr('stroke', d.color).attr('stroke-width', 2.6);
});
legendBoxes.forEach((d) => {
  leg.append('rect')
    .attr('x', d.x).attr('y', 2).attr('width', 72).attr('height', 36)
    .attr('fill', d.color).attr('fill-opacity', 0.33)
    .attr('stroke', d.color).attr('stroke-opacity', 0.35)
    .attr('stroke-width', 1.2).attr('stroke-dasharray', '3,1.4');
});
leg.selectAll('text.leg')
  .data(legendLines.concat(legendBoxes))
  .join('text')
  .attr('class', 'leg')
  .attr('x', (d) => d.tx)
  .attr('y', 24.5)
  .attr('font-family', sans)
  .attr('font-weight', 'bold')
  .attr('font-size', 18)
  .attr('fill', '#111')
  .text((d) => d.label);
</script>
</body>
</html>
